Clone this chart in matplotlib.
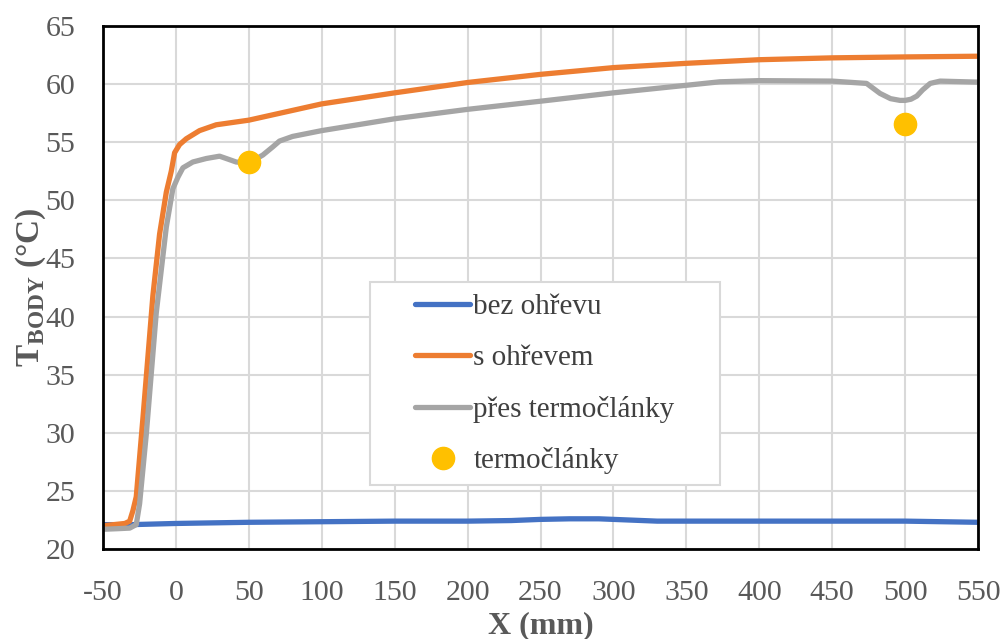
import matplotlib
matplotlib.use("Agg")
import matplotlib.pyplot as plt
from matplotlib.patches import Rectangle

plt.rcParams['font.family'] = ['Liberation Serif', 'DejaVu Serif']
plt.rcParams['mathtext.fontset'] = 'custom'
plt.rcParams['mathtext.rm'] = 'Liberation Serif'
plt.rcParams['mathtext.bf'] = 'Liberation Serif:bold'
plt.rcParams['axes.unicode_minus'] = False

# bez ohrevu
x_blue = [-50, -30, 0, 50, 100, 150, 200, 230, 250, 270, 290, 310, 330, 400, 450, 500, 550]
y_blue = [22.1, 22.1, 22.2, 22.3, 22.35, 22.4, 22.4, 22.45, 22.55, 22.6, 22.6, 22.5, 22.4, 22.4, 22.4, 22.4, 22.3]

# s ohrevem
x_orange = [-50, -35, -31.7, -29.5, -27.2, -22.6, -15.8, -11.2, -6.6, -3.2, -0.9, 2.5, 7.1, 16.2,
            27.6, 50, 100, 150, 200, 250, 300, 350, 400, 450, 500, 550]
y_orange = [22.0, 22.2, 22.4, 23.3, 24.5, 31.3, 41.8, 47.1, 50.7, 52.5, 54.1, 54.8, 55.3, 56.0,
            56.5, 56.9, 58.3, 59.25, 60.14, 60.84, 61.42, 61.79, 62.1, 62.26, 62.34, 62.4]

# pres termoclanky
x_gray = [-50, -40, -31.7, -27.2, -24.9, -20.3, -13.5, -6.6, -2.1, 1.4, 4.8, 11.6, 20.8, 29.9, 34.5,
          41.3, 50, 59.6, 66.4, 71, 80, 100, 150, 200, 250, 300, 350, 373, 400, 450, 473.6, 482.8,
          490, 496.5, 500, 504, 508, 512, 517.2, 524, 550]
y_gray = [21.7, 21.75, 21.8, 22.1, 23.9, 29.9, 40.3, 47.7, 51.0, 52.0, 52.8, 53.3, 53.6, 53.8, 53.6,
          53.3, 53.2, 53.9, 54.6, 55.1, 55.5, 56.0, 57.02, 57.83, 58.53, 59.25, 59.9, 60.2, 60.3,
          60.26, 60.06, 59.2, 58.75, 58.6, 58.6, 58.7, 58.97, 59.5, 60.06, 60.26, 60.17]

# termoclanky
x_tc = [50, 500]
y_tc = [53.3, 56.6]

fig = plt.figure(figsize=(10.03, 6.39), dpi=100)
ax = fig.add_axes([0.1027, 0.1408, 0.8724, 0.8185])

lw = 3.8
ax.plot(x_blue, y_blue, color='#4472C4', lw=lw, label='bez ohřevu', solid_capstyle='round')
ax.plot(x_orange, y_orange, color='#ED7D31', lw=lw, label='s ohřevem', solid_capstyle='round')
ax.plot(x_gray, y_gray, color='#A5A5A5', lw=lw, label='přes termočlánky', solid_capstyle='round')
ax.plot(x_tc, y_tc, 'o', color='#FFC000', ms=16, label='termočlánky', zorder=5)

ax.set_xlim(-50, 550)
ax.set_ylim(20, 65)
ax.set_xticks(range(-50, 551, 50))
ax.set_yticks(range(20, 66, 5))
ax.grid(True, color='#D9D9D9', lw=1.5)
ax.set_axisbelow(True)
for s in ax.spines.values():
    s.set_color('black')
    s.set_linewidth(2)
ax.tick_params(length=0, labelsize=21.5, colors='#595959')
ax.tick_params(axis='y', pad=20)
ax.tick_params(axis='x', pad=22)

ax.set_xlabel('X (mm)', fontsize=23, fontweight='bold', color='#595959', labelpad=4)
ax.set_ylabel(r'$\mathbf{T}_{\mathbf{BODY}}$ (°C)', fontsize=24, fontweight='bold',
              color='#595959', labelpad=-2)

# legend box
ax.add_patch(Rectangle((0.3689, 0.2410), 0.3489, 0.3177, transform=fig.transFigure,
                       facecolor='white', edgecolor='#D9D9D9', lw=1.5, zorder=6, clip_on=False))
leg = ax.legend(loc='upper left', bbox_to_anchor=(0.4138, 0.5400),
                bbox_transform=fig.transFigure, fontsize=21, frameon=False,
                labelcolor='#404040', handlelength=1.9, handletextpad=0.1,
                labelspacing=0.84, borderpad=0, borderaxespad=0)
leg.set_zorder(7)

fig.savefig('out.png', dpi=100)
